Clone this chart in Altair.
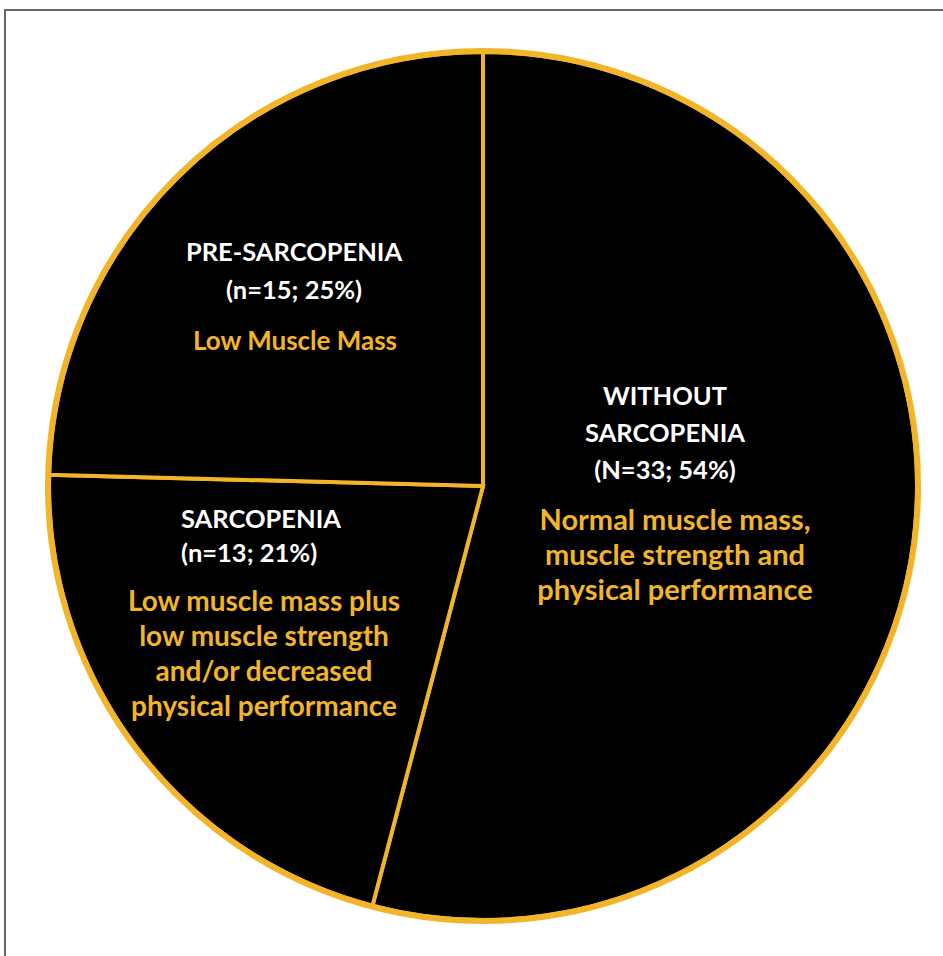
import altair as alt
import pandas as pd

# Data
categories = ["WITHOUT SARCOPENIA", "SARCOPENIA", "PRE-SARCOPENIA"]
counts = [33, 13, 15]
percents = [54, 21, 25]

GOLD = "#F2B529"
CX, CY, R = 483, 486, 434

pie_df = pd.DataFrame({"category": categories, "n": counts, "order": [0, 1, 2]})

pie = alt.Chart(pie_df).mark_arc(
    radius=R, stroke=GOLD, strokeWidth=4, fill="black"
).encode(
    theta=alt.Theta("n:Q", stack=True),
    order=alt.Order("order:Q"),
    x=alt.value(CX), y=alt.value(CY),
)

rim = alt.Chart(pd.DataFrame({"a": [0]})).mark_arc(
    radius=R + 1, stroke=GOLD, strokeWidth=6, fillOpacity=0, fill="black",
    theta=0, theta2=6.2832,
).encode(x=alt.value(CX), y=alt.value(CY))

border = alt.Chart(pd.DataFrame({"a": [0]})).mark_rect(
    fillOpacity=0, stroke="#666666", strokeWidth=2
).encode(x=alt.value(5), x2=alt.value(990), y=alt.value(10), y2=alt.value(1000))

FONT = "Lato"


def block(lines, color, x, y, align="center", lh=35, fs=26):
    df = pd.DataFrame({"t": [lines]})
    return alt.Chart(df).mark_text(
        font=FONT, fontSize=fs, fontWeight="bold", color=color, align=align,
        baseline="middle", lineHeight=lh,
    ).encode(text="t:N", x=alt.value(x), y=alt.value(y))


W, G = 25.5, 28
texts = [
    block(["PRE-SARCOPENIA", f"(n={counts[2]}; {percents[2]}%)"], "white", 294, 253, lh=38, fs=W),
    block(["Low Muscle Mass"], GOLD, 295, 342, fs=26),
    block(["SARCOPENIA", f"(n={counts[1]}; {percents[1]}%)"], "white", 181, 520, align="left", lh=34, fs=W),
    block(["Low muscle mass plus", "low muscle strength", "and/or decreased",
           "physical performance"], GOLD, 264, 603, fs=G),
    block(["WITHOUT", "SARCOPENIA", f"(N={counts[0]}; {percents[0]}%)"], "white", 665, 397, lh=37, fs=W),
    block(["Normal muscle mass,", "muscle strength and", "physical performance"], GOLD, 675, 521, fs=29),
]

chart = alt.layer(border, pie, rim, *texts).properties(
    width=943, height=956, autosize=alt.AutoSizeParams(type="none"), padding=0,
    background="white",
).configure_view(stroke=None)

chart.save("out.html", embed_options={"renderer": "svg", "actions": False})
